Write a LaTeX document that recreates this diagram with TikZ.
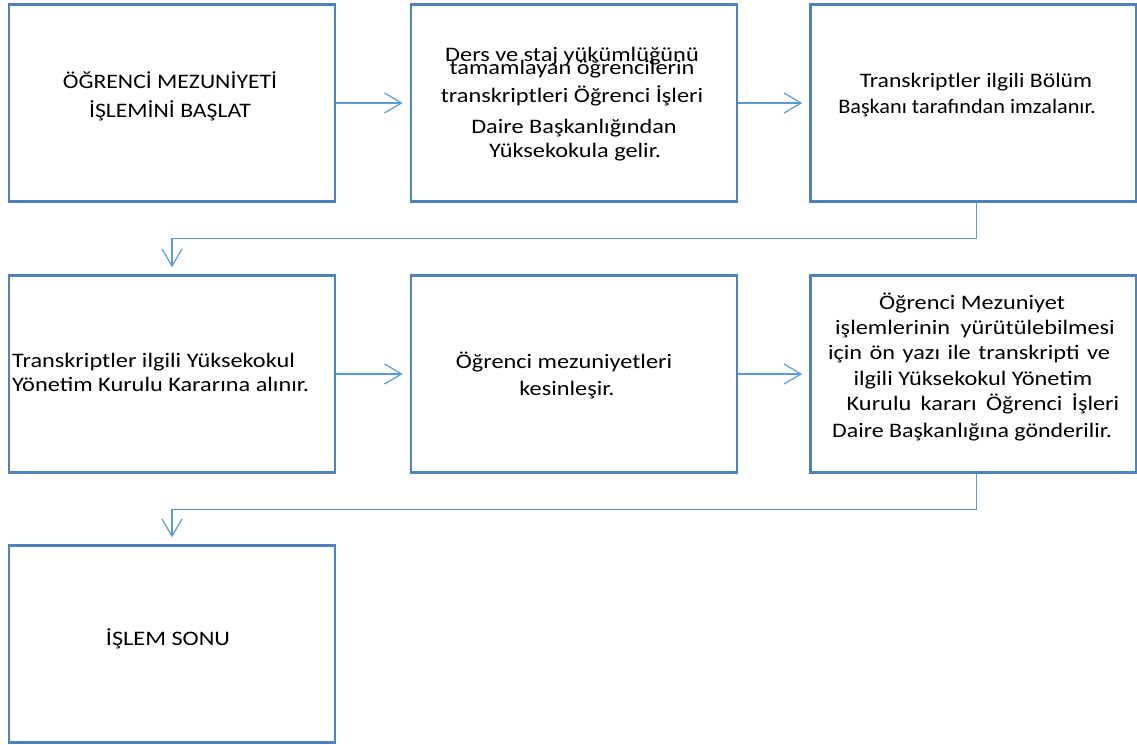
\documentclass[tikz,border=0pt]{standalone}
\usepackage{fontspec}
\usepackage{graphicx}
\setmainfont{Carlito}
\usetikzlibrary{arrows.meta}
\definecolor{boxblue}{RGB}{79,129,189}
\definecolor{connblue}{RGB}{91,155,213}
\newcommand{\sx}[2][1.18]{\scalebox{#1}[1.0]{#2}}
\tikzset{
  stepbox/.style={draw=boxblue, line width=2.6pt, fill=white, minimum width=326pt, minimum height=197pt, inner sep=0pt},
  txt/.style={anchor=base, inner sep=0pt, font=\fontsize{20.6}{25}\selectfont, text=black},
  txtl/.style={anchor=base west, inner sep=0pt, font=\fontsize{20.6}{25}\selectfont, text=black},
  conn/.style={draw=connblue, line width=1.2pt, -{Straight Barb[length=17pt,width=20pt,line width=1.2pt]}, shorten >=7pt}
}
\begin{document}
\begin{tikzpicture}[x=1pt,y=-1pt]
\useasboundingbox (0,0) rectangle (1137,744);
% boxes
\node[stepbox] (b1) at (172,103) {};
\node[stepbox] (b2) at (574,103) {};
\node[stepbox] (b3) at (973.5,103) {};
\node[stepbox] (b4) at (172,374) {};
\node[stepbox] (b5) at (574,374) {};
\node[stepbox] (b6) at (973.5,374) {};
\node[stepbox] (b7) at (172,644) {};
% texts
\node[txt] (t1a) at (170,88) {\sx[1.15]{ÖĞRENCİ MEZUNİYETİ}};
\node[txt] (t1b) at (170,117) {\sx[1.15]{İŞLEMİNİ BAŞLAT}};
\node[txt] (t2a) at (572,61) {\sx{Ders ve staj yükümlüğünü}};
\node[txt] (t2b) at (572,74) {\sx{tamamlayan öğrencilerin}};
\node[txt] (t2c) at (572,102) {\sx{transkriptleri Öğrenci İşleri}};
\node[txt] (t2d) at (574,133) {\sx{Daire Başkanlığından}};
\node[txt] (t2e) at (575,157) {\sx{Yüksekokula gelir.}};
\node[txt] (t3a) at (976,87) {\sx[1.15]{Transkriptler ilgili Bölüm}};
\node[txt] (t3b) at (967,113) {\sx[1.08]{Başkanı tarafından imzalanır.}};
\node[txtl] (t4a) at (12,367) {\sx{Transkriptler ilgili Yüksekokul}};
\node[txtl] (t4b) at (12,391) {\sx{Yönetim Kurulu Kararına alınır.}};
\node[txt] (t5a) at (564,368) {\sx{Öğrenci mezuniyetleri}};
\node[txt] (t5b) at (567,395) {\sx{kesinleşir.}};
\node[txt] (t6a) at (972,309) {\sx{Öğrenci Mezuniyet}};
\node[txt] (t6b) at (975,334) {\sx{\makebox[237pt][s]{işlemlerinin yürütülebilmesi}}};
\node[txt] (t6c) at (969,359) {\sx{\makebox[239pt][s]{için ön yazı ile transkripti ve}}};
\node[txt] (t6d) at (973,385) {\sx{ilgili Yüksekokul Yönetim}};
\node[txt] (t6e) at (983,410) {\sx{\makebox[231pt][s]{Kurulu kararı Öğrenci İşleri}}};
\node[txt] (t6f) at (972,437) {\sx[1.16]{Daire Başkanlığına gönderilir.}};
\node[txt] (t7a) at (168,645) {\sx{İŞLEM SONU}};
% connectors
\draw[conn] (b1.east) -- (b2.west);
\draw[conn] (b2.east) -- (b3.west);
\draw[conn] (b4.east) -- (b5.west);
\draw[conn] (b5.east) -- (b6.west);
\coordinate (e1) at ([xshift=3pt]b3.south);
\coordinate (e2) at ([xshift=3pt]b6.south);
\draw[conn] (e1) -- ++(0,36) -| (b4.north);
\draw[conn] (e2) -- ++(0,36) -| (b7.north);
\end{tikzpicture}
\end{document}
